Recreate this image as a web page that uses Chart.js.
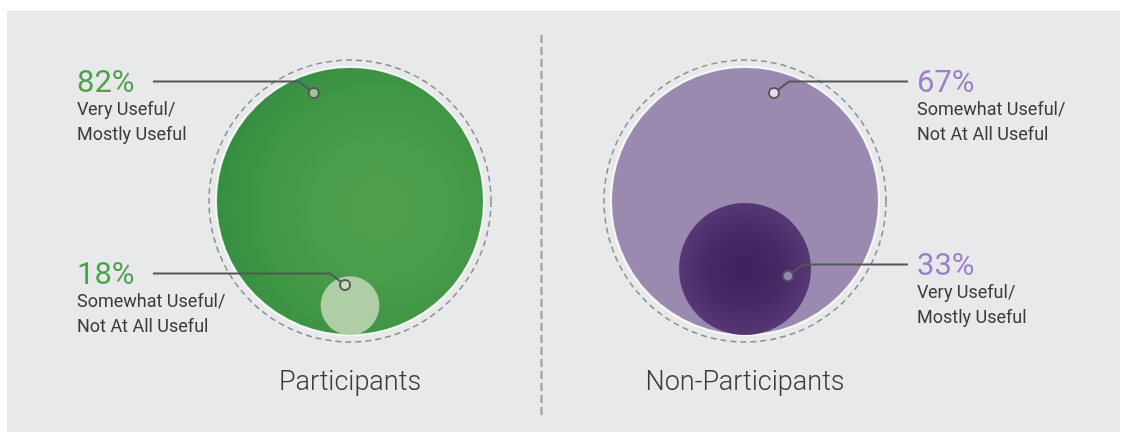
<!DOCTYPE html>
<html>
<head>
<meta charset="utf-8">
<script src="https://cdn.jsdelivr.net/npm/chart.js@4.4.0/dist/chart.umd.min.js"></script>
<style>
html, body { margin: 0; padding: 0; background: #fff; }
#panel { position: absolute; left: 7px; top: 11px; width: 1113px; height: 421px; background: #e8e9eb; }
#wrap { position: absolute; left: 0; top: 0; width: 1121px; height: 432px; }
</style>
</head>
<body>
<div id="panel"></div>
<div id="wrap"><canvas id="myChart"></canvas></div>
<script>
var groups = ['Participants', 'Non-Participants'];
var majorValues = [82, 67];
var minorValues = [18, 33];
var majorLabels = [['Very Useful/', 'Mostly Useful'], ['Somewhat Useful/', 'Not At All Useful']];
var minorLabels = [['Somewhat Useful/', 'Not At All Useful'], ['Very Useful/', 'Mostly Useful']];

var textColors = ['#4ba34b', '#9a80c6'];
var minorFill = ['#afcea5', '#4a2d6a'];
var majorFill = ['#3e9545', '#9a8ab0'];
var majorDot = ['#9dc594', '#e4dcef'];
var minorDot = ['#c8ddc0', '#9b80c6'];

// where the callout dots sit, relative to each circle centre (in big-radius units)
var majorAnchor = [[-0.27, 0.806], [0.216, 0.806]];
var minorAnchor = [[-0.037, 0.154], [0.321, -0.052]];

var ctx = document.getElementById('myChart').getContext('2d');

// radius of a circle in pixels from a size in scale units
function unitPx(chart, v) {
    var s = chart.scales.y;
    return Math.abs(s.getPixelForValue(0) - s.getPixelForValue(v));
}

function centre(c) {
    return {
        x: c.chart.scales.x.getPixelForValue(c.raw.x),
        y: c.chart.scales.y.getPixelForValue(c.raw.y)
    };
}

var ringData = groups.map(function(g, i) { return {x: i, y: 0, size: 1.052}; });
var majorData = groups.map(function(g, i) { return {x: i, y: 0, size: 1}; });
var minorData = groups.map(function(g, i) {
    var s = minorValues[i] / majorValues[i];
    return {x: i, y: -(1 - s), size: s};
});

function majorBg(c) {
    if (c.type !== 'data' || !c.chart.chartArea) return majorFill[c.dataIndex];
    if (c.dataIndex == 1) return majorFill[1];
    var p = centre(c), R = unitPx(c.chart, 1);
    var g = c.chart.ctx.createRadialGradient(p.x + 0.22 * R, p.y + 0.06 * R, 0, p.x + 0.22 * R, p.y + 0.06 * R, R * 1.2);
    g.addColorStop(0, '#4ea04c');
    g.addColorStop(0.4, '#4a9d4a');
    g.addColorStop(0.75, '#3f9645');
    g.addColorStop(1, '#368f41');
    return g;
}

function minorBg(c) {
    if (c.type !== 'data' || !c.chart.chartArea) return minorFill[c.dataIndex];
    if (c.dataIndex == 0) return minorFill[0];
    var p = centre(c), r = unitPx(c.chart, c.raw.size);
    var g = c.chart.ctx.createRadialGradient(p.x, p.y, 0, p.x, p.y, r);
    g.addColorStop(0, '#3e215c');
    g.addColorStop(0.6, '#482a66');
    g.addColorStop(1, '#563874');
    return g;
}

function radius(c) {
    if (!c.raw) return 0;
    return unitPx(c.chart, c.raw.size);
}

var dashPlugin = {
    id: 'dashes',
    beforeDatasetDraw: function(chart, args) {
        if (chart.data.datasets[args.index].dashed) chart.ctx.setLineDash([6, 4]);
    },
    afterDatasetDraw: function(chart) {
        chart.ctx.setLineDash([]);
    }
};

var calloutPlugin = {
    id: 'callouts',
    afterDatasetsDraw: function(chart) {
        var c = chart.ctx, xs = chart.scales.x, ys = chart.scales.y;
        var unit = unitPx(chart, 1);
        c.save();

        // divider between the two groups
        var dx = Math.round(xs.getPixelForValue(0.484)) + 0.5;
        c.strokeStyle = '#9c9c9c';
        c.lineWidth = 2;
        c.setLineDash([8, 4]);
        c.beginPath();
        c.moveTo(dx, 35);
        c.lineTo(dx, 418);
        c.stroke();
        c.setLineDash([]);

        groups.forEach(function(name, i) {
            var cx = xs.getPixelForValue(i);
            c.font = '300 27px Roboto';
            c.fillStyle = '#3a3a3a';
            c.textAlign = 'center';
            c.textBaseline = 'alphabetic';
            c.fillText(name, cx, 390);

            var left = i === 0;
            drawCallout(c, left, cx + majorAnchor[i][0] * unit, ys.getPixelForValue(majorData[i].y + majorAnchor[i][1]),
                majorValues[i], majorLabels[i], textColors[i], majorDot[i]);
            drawCallout(c, left, cx + minorAnchor[i][0] * unit, ys.getPixelForValue(minorData[i].y + minorAnchor[i][1]),
                minorValues[i], minorLabels[i], textColors[i], minorDot[i]);
        });
        c.restore();
    }
};

function drawCallout(c, left, px, py, value, lines, color, dotFill) {
    var ex = px + (left ? -15 : 15);
    var ey = Math.round(py - 12) + 0.5;
    var tx = left ? 77 : 917;
    var lx = left ? 153 : 908;

    c.strokeStyle = '#565656';
    c.lineWidth = 2;
    c.beginPath();
    c.moveTo(lx, ey);
    c.lineTo(ex, ey);
    c.lineTo(px, py);
    c.stroke();

    c.beginPath();
    c.arc(px, py, 5, 0, Math.PI * 2);
    c.fillStyle = dotFill;
    c.fill();
    c.stroke();

    c.textAlign = 'left';
    c.textBaseline = 'alphabetic';
    c.fillStyle = color;
    c.font = '400 31px Roboto';
    c.fillText(value + '%', tx, ey + 10);
    c.fillStyle = '#3a3a3a';
    c.font = '400 18px Roboto';
    c.fillText(lines[0], tx, ey + 33);
    c.fillText(lines[1], tx, ey + 58);
}

var myChart = new Chart(ctx, {
    type: 'scatter',
    data: {
        datasets: [
            {
                label: 'minor',
                data: minorData,
                pointRadius: radius,
                pointBackgroundColor: minorBg,
                pointBorderWidth: 0,
                pointBorderColor: 'rgba(0,0,0,0)',
                clip: false
            },
            {
                label: 'major',
                data: majorData,
                pointRadius: radius,
                pointBackgroundColor: majorBg,
                pointBorderWidth: 2,
                pointBorderColor: 'rgba(255,255,255,0.85)',
                clip: false
            },
            {
                label: 'ring',
                data: ringData,
                dashed: true,
                pointRadius: radius,
                pointBackgroundColor: 'rgba(0,0,0,0)',
                pointBorderWidth: 1.5,
                pointBorderColor: '#8e8e8e',
                clip: false
            }
        ]
    },
    options: {
        responsive: true,
        maintainAspectRatio: false,
        animation: false,
        events: [],
        layout: {
            padding: {left: 152.5, right: 178.5, top: 0, bottom: 30}
        },
        scales: {
            x: {type: 'linear', display: false, min: -0.5, max: 1.5},
            y: {type: 'linear', display: false, min: -1.5, max: 1.5}
        },
        plugins: {
            legend: {display: false},
            tooltip: {enabled: false}
        }
    },
    plugins: [dashPlugin, calloutPlugin]
});
</script>
</body>
</html>
